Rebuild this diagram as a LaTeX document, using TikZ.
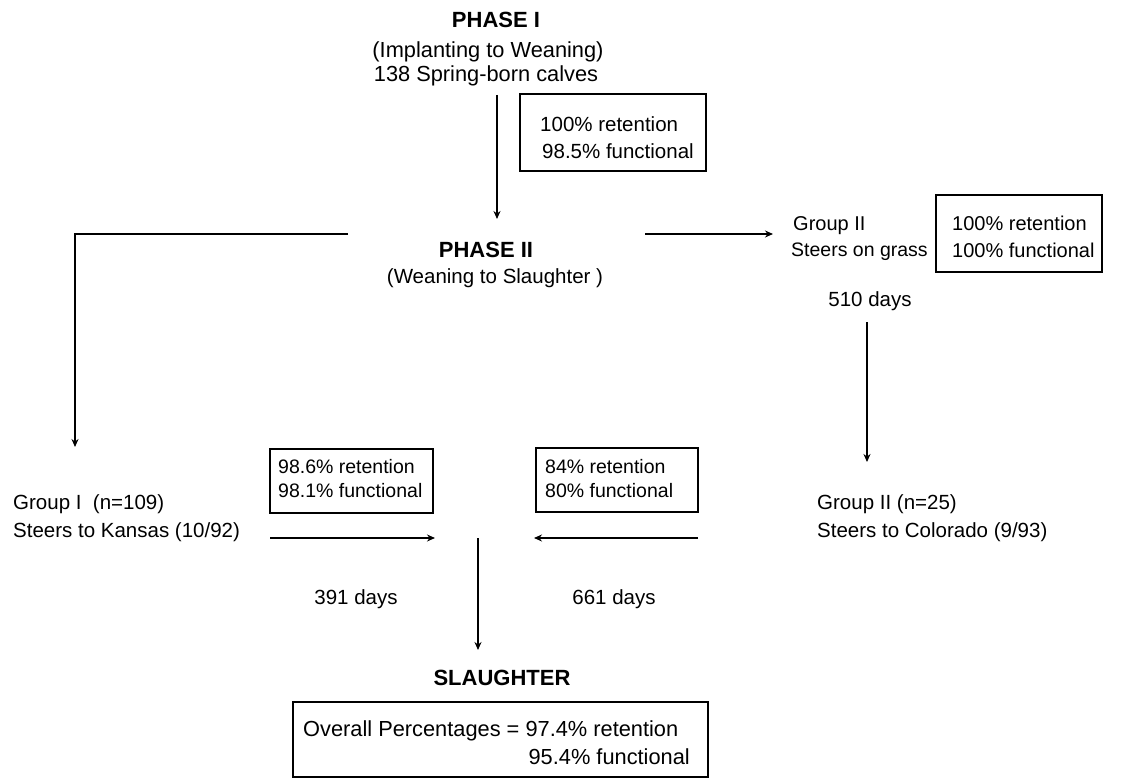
\documentclass[tikz,border=0pt]{standalone}
\usepackage{fontspec}
\setmainfont{Liberation Sans}
\usetikzlibrary{arrows.meta}
\begin{document}
\begin{tikzpicture}[x=1pt,y=-1pt,
  txt/.style={inner sep=0pt,font=\fontsize{20.5}{24}\selectfont},
  txts/.style={inner sep=0pt,font=\fontsize{19.5}{23}\selectfont},
  txtm/.style={inner sep=0pt,font=\fontsize{20}{24}\selectfont},
  txtl/.style={inner sep=0pt,font=\fontsize{21.8}{26}\selectfont},
  hd/.style={inner sep=0pt,font=\fontsize{22}{26}\selectfont\bfseries},
  boxframe/.style={draw,line width=1.3pt},
  conn/.style={line width=1.3pt,-{Stealth[length=8pt,width=7pt]}}]
\useasboundingbox (0,0) rectangle (1124,778);

% Phase I
\node[hd,anchor=base] (phase1) at (496,28) {PHASE I};
\node[txtl,anchor=base] (implant) at (488,58) {(Implanting to Weaning)};
\node[txtl,anchor=base] (calves) at (486,82) {138 Spring-born calves};
\draw[boxframe] (520,94) rectangle (706,171);
\node[txt,anchor=base west] (r1) at (540,132) {100\% retention};
\node[txt,anchor=base west] (f1) at (542,159) {98.5\% functional};

% Phase II
\node[hd,anchor=base] (phase2) at (486,257) {PHASE II};
\node[txt,anchor=base] (wean) at (495,283) {(Weaning to Slaughter )};

% Group II grass
\node[txtm,anchor=base west] (g2) at (793,230) {Group II};
\node[txts,anchor=base west] (g2s) at (791,256) {Steers on grass};
\draw[boxframe] (936,195) rectangle (1102,272);
\node[txtm,anchor=base west] (r2) at (952,230) {100\% retention};
\node[txtm,anchor=base west] (f2) at (952,257) {100\% functional};
\node[txt,anchor=base] (d510) at (870,306) {510 days};

% Group I Kansas
\node[txt,anchor=base west] (g1) at (13,509) {Group I\ \ (n=109)};
\node[txt,anchor=base west] (g1s) at (13,537) {Steers to Kansas (10/92)};
\draw[boxframe] (270,449) rectangle (433,513);
\node[txts,anchor=base west] (r3) at (278,473) {98.6\% retention};
\node[txts,anchor=base west] (f3) at (278,497) {98.1\% functional};

% Group II Colorado
\node[txt,anchor=base west] (g3) at (817,509) {Group II (n=25)};
\node[txt,anchor=base west] (g3s) at (817,537) {Steers to Colorado (9/93)};
\draw[boxframe] (536,448) rectangle (698,512);
\node[txts,anchor=base west] (r4) at (545,473) {84\% retention};
\node[txts,anchor=base west] (f4) at (545,497) {80\% functional};

\node[txt,anchor=base] (d391) at (356,604) {391 days};
\node[txt,anchor=base] (d661) at (614,604) {661 days};

% Slaughter
\node[hd,anchor=base] (slaughter) at (502,685) {SLAUGHTER};
\draw[boxframe] (293,702) rectangle (708,777);
\node[txtl,anchor=base west] (overall) at (303,736) {Overall Percentages = 97.4\% retention};
\node[txtl,anchor=base east] (overall2) at (690,764) {95.4\% functional};

% connector coordinates
\coordinate (a1s) at (497,95);
\coordinate (a1e) at (497,219);
\coordinate (lj) at (348,234);
\coordinate (lc) at (75,234);
\coordinate (le) at (75,447);
\coordinate (rj) at (645,234);
\coordinate (re) at (773,234);
\coordinate (v2s) at (867,322);
\coordinate (v2e) at (867,462);
\coordinate (kl) at (270,538);
\coordinate (kr) at (435,538);
\coordinate (cr) at (698,538);
\coordinate (cl) at (534,538);
\coordinate (ms) at (478,538);
\coordinate (me) at (478,650);

\draw[conn] (a1s) -- (a1e);
\draw[conn] (lj) -- (lc) -- (le);
\draw[conn] (rj) -- (re);
\draw[conn] (v2s) -- (v2e);
\draw[conn] (kl) -- (kr);
\draw[conn] (cr) -- (cl);
\draw[conn] (ms) -- (me);
\end{tikzpicture}
\end{document}
